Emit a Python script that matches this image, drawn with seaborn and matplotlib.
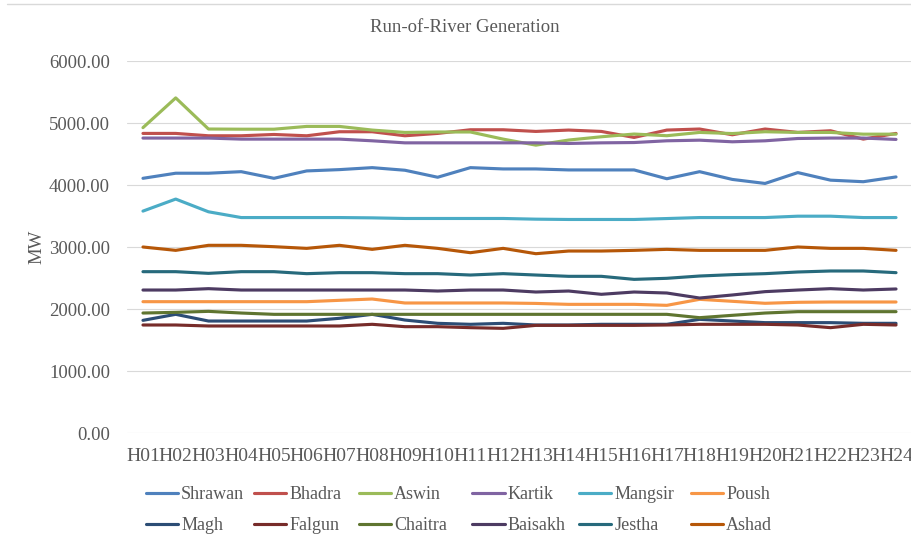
import numpy as np
import pandas as pd
import matplotlib
matplotlib.use("Agg")
import matplotlib.pyplot as plt
from matplotlib.lines import Line2D
import seaborn as sns

sns.set_theme(style="white")
plt.rcParams["font.family"] = ["Liberation Serif", "DejaVu Serif"]

TEXT = "#595959"
GRID = "#d9d9d9"

hours = ["H01", "H02", "H03", "H04", "H05", "H06", "H07", "H08", "H09", "H10", "H11", "H12",
         "H13", "H14", "H15", "H16", "H17", "H18", "H19", "H20", "H21", "H22", "H23", "H24"]

months = ["Shrawan", "Bhadra", "Aswin", "Kartik", "Mangsir", "Poush",
          "Magh", "Falgun", "Chaitra", "Baisakh", "Jestha", "Ashad"]

shrawan = [4108, 4190, 4190, 4215, 4108, 4227, 4248, 4280, 4238, 4125, 4280, 4259,
           4259, 4243, 4243, 4243, 4101, 4215, 4090, 4025, 4200, 4078, 4053, 4130]
bhadra = [4832, 4832, 4794, 4794, 4815, 4794, 4859, 4859, 4794, 4832, 4891, 4891,
          4864, 4886, 4864, 4767, 4886, 4903, 4810, 4903, 4848, 4875, 4740, 4832]
aswin = [4925, 5405, 4903, 4900, 4900, 4945, 4945, 4886, 4848, 4855, 4855, 4740,
         4643, 4725, 4778, 4822, 4795, 4848, 4830, 4859, 4848, 4848, 4820, 4820]
kartik = [4757, 4757, 4757, 4740, 4740, 4740, 4740, 4713, 4680, 4680, 4680, 4680,
          4680, 4670, 4680, 4685, 4713, 4723, 4697, 4713, 4750, 4757, 4757, 4735]
mangsir = [3579, 3773, 3568, 3475, 3475, 3475, 3475, 3470, 3460, 3460, 3460, 3460,
           3449, 3444, 3444, 3444, 3459, 3475, 3475, 3475, 3497, 3497, 3475, 3475]
poush = [2118, 2118, 2118, 2118, 2118, 2118, 2140, 2161, 2097, 2097, 2097, 2097,
         2090, 2075, 2075, 2075, 2059, 2156, 2124, 2092, 2108, 2113, 2113, 2113]
magh = [1817, 1914, 1806, 1806, 1806, 1806, 1850, 1914, 1822, 1769, 1753, 1769,
        1742, 1742, 1753, 1753, 1753, 1833, 1806, 1780, 1780, 1780, 1769, 1769]
falgun = [1742, 1742, 1726, 1726, 1726, 1726, 1726, 1753, 1715, 1715, 1699, 1688,
          1736, 1736, 1736, 1736, 1742, 1753, 1753, 1753, 1742, 1699, 1753, 1742]
chaitra = [1935, 1946, 1962, 1935, 1914, 1914, 1914, 1914, 1914, 1914, 1914, 1914,
           1914, 1914, 1914, 1914, 1914, 1860, 1898, 1935, 1957, 1957, 1957, 1957]
baisakh = [2306, 2306, 2328, 2306, 2306, 2306, 2306, 2306, 2306, 2290, 2306, 2306,
           2274, 2290, 2237, 2274, 2258, 2177, 2226, 2280, 2306, 2328, 2306, 2323]
jestha = [2602, 2602, 2575, 2602, 2602, 2570, 2586, 2586, 2570, 2570, 2548, 2570,
          2548, 2527, 2527, 2478, 2495, 2532, 2554, 2570, 2597, 2613, 2613, 2586]
ashad = [3000, 2946, 3027, 3027, 3005, 2978, 3027, 2962, 3027, 2978, 2908, 2978,
         2892, 2935, 2935, 2946, 2962, 2946, 2946, 2946, 3000, 2978, 2978, 2946]

colors = ["#4F81BD", "#C0504D", "#9BBB59", "#8064A2", "#4BACC6", "#F79646",
          "#2C4D75", "#772C2A", "#5F7530", "#4D3B62", "#276A7C", "#B65708"]

y_ticks = [0, 1000, 2000, 3000, 4000, 5000, 6000]

series = [shrawan, bhadra, aswin, kartik, mangsir, poush,
          magh, falgun, chaitra, baisakh, jestha, ashad]
df = pd.DataFrame({
    "Hour": hours * len(months),
    "Month": np.repeat(months, len(hours)),
    "MW": np.concatenate(series),
})

W, H = 912, 536
fig = plt.figure(figsize=(W / 100, H / 100), dpi=100)
ax = fig.add_axes([126.6 / W, 103 / H, 785.8 / W, 372 / H])

sns.lineplot(data=df, x="Hour", y="MW", hue="Month", hue_order=months,
             palette=colors, linewidth=2.25, estimator=None, sort=False,
             legend=True, ax=ax)

ax.set_xlim(-0.5, len(hours) - 0.5)
ax.set_ylim(0, 6000)
ax.set_yticks(y_ticks)
ax.set_yticklabels([f"{v:.2f}" for v in y_ticks])
ax.grid(axis="y", color=GRID, linewidth=0.8)
ax.grid(axis="x", visible=False)
for s in ax.spines.values():
    s.set_visible(False)
ax.tick_params(axis="y", length=0, pad=12, labelsize=13.5, labelcolor=TEXT)
ax.tick_params(axis="x", length=0, pad=11, labelsize=14, labelcolor=TEXT)
ax.set_xlabel("")
ax.set_ylabel("MW", fontsize=13.5, color=TEXT)
ax.yaxis.set_label_coords(-0.103, 0.5)

fig.text(465 / W, 1 - 28 / H, "Run-of-River Generation", ha="center", va="center",
         fontsize=13.5, color=TEXT)

# chart frame edge along the top
fig.add_artist(Line2D([7 / W, 1.0], [1 - 4 / H, 1 - 4 / H], color=GRID, lw=1,
                      transform=fig.transFigure))

# legend: two rows of six, laid out row by row
old = ax.get_legend()
handles = list(old.legend_handles)
labels = [t.get_text() for t in old.get_texts()]
old.remove()
col_x = [146, 254, 359, 472, 579, 691]
for c in range(6):
    leg = fig.legend([handles[c], handles[c + 6]], [labels[c], labels[c + 6]],
                     loc="upper left", bbox_to_anchor=(col_x[c] / W, 1 - 486 / H),
                     frameon=False, fontsize=13, handlelength=1.8, handletextpad=0.15,
                     labelspacing=0.78, borderpad=0, borderaxespad=0)
    for h in leg.legend_handles:
        h.set_linewidth(2.25)
    for t in leg.get_texts():
        t.set_color(TEXT)

fig.savefig("out.png", dpi=100)
